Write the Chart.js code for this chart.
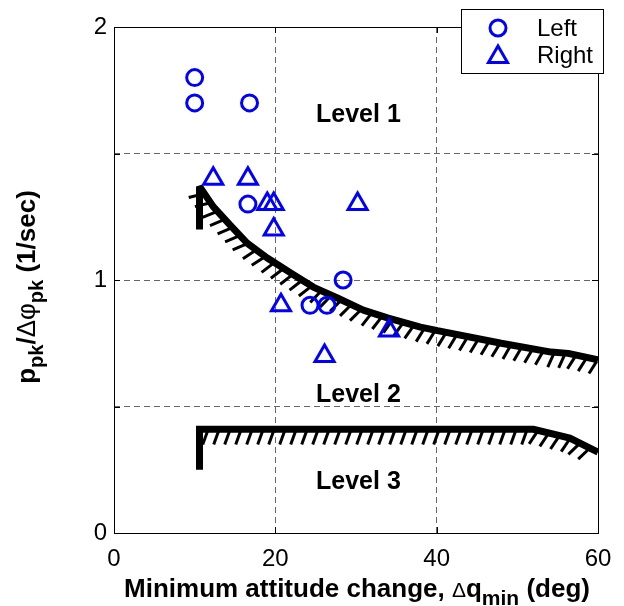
<!DOCTYPE html>
<html>
<head>
<meta charset="utf-8">
<script src="https://cdn.jsdelivr.net/npm/chart.js@4/dist/chart.umd.min.js"></script>
<style>
  body { margin: 0; background: #fff; }
  #wrap { width: 624px; height: 606px; }
</style>
</head>
<body>
<div id="wrap"><canvas id="chart" width="624" height="606"></canvas></div>
<script>
// Measured points
const leftX = [10, 10, 16.8, 16.6, 28.4, 24.3, 26.4];
const leftY = [1.8, 1.7, 1.7, 1.3, 1.0, 0.9, 0.9];
const rightX = [12.3, 16.6, 19.0, 19.8, 19.8, 30.2, 20.7, 26.1, 34.1];
const rightY = [1.4, 1.4, 1.3, 1.3, 1.2, 1.3, 0.9, 0.7, 0.8];

// Level boundaries (first segment is the vertical end bar, not hatched)
const level12X = [10.6, 10.6, 12.3, 14.4, 16.5, 19.0, 21.9, 24.7, 27.7, 30.9, 33.9, 38.0, 40.1, 48.0, 54.2, 56.3, 60];
const level12Y = [1.20, 1.37, 1.29, 1.217, 1.146, 1.087, 1.028, 0.972, 0.929, 0.881, 0.85, 0.814, 0.80, 0.75, 0.715, 0.71, 0.684];
const level23X = [10.6, 10.6, 52, 56.5, 60];
const level23Y = [0.25, 0.41, 0.41, 0.375, 0.32];

const xTicks = [0, 20, 40, 60];
const yTicks = [0, 0.5, 1, 1.5, 2];
const yTickLabels = ['0', '', '1', '', '2'];

const levelNames = ['Level 1', 'Level 2', 'Level 3'];
const levelAt = [[30.3, 1.65], [30.3, 0.545], [30.3, 0.2]];

const FONT = "'Liberation Sans', Arial, sans-serif";
const BLUE = '#0000ff';

function pts(xs, ys) {
    return xs.map((x, i) => ({ x: x, y: ys[i] }));
}

// hatch marks under the boundary lines
const hatchPlugin = {
    id: 'hatch',
    afterDatasetDraw(chart, args) {
        const ds = chart.data.datasets[args.index];
        if (!ds.hatch) return;
        const p = args.meta.data.map(e => ({ x: e.x, y: e.y }));
        const ctx = chart.ctx;
        const a = chart.chartArea;
        ctx.save();
        ctx.beginPath();
        ctx.rect(a.left, a.top, a.right - a.left, a.bottom - a.top);
        ctx.clip();
        ctx.strokeStyle = '#000';
        ctx.lineWidth = 3;
        const step = 11, off = 2, len = 14, ang = 20 * Math.PI / 180;
        let carry = 8;
        for (let i = 1; i < p.length - 1; i++) {
            const dx = p[i + 1].x - p[i].x, dy = p[i + 1].y - p[i].y;
            const L = Math.hypot(dx, dy);
            const tx = dx / L, ty = dy / L, nx = -ty, ny = tx;
            const hx = nx * Math.cos(ang) - tx * Math.sin(ang);
            const hy = ny * Math.cos(ang) - ty * Math.sin(ang);
            let s = carry;
            while (s < L) {
                const bx = p[i].x + tx * s + nx * off;
                const by = p[i].y + ty * s + ny * off;
                ctx.beginPath();
                ctx.moveTo(bx, by);
                ctx.lineTo(bx + hx * len, by + hy * len);
                ctx.stroke();
                s += step;
            }
            carry = s - L;
        }
        ctx.restore();
    }
};

// draw a run of text pieces with subscripts, centred at (cx, base)
function drawRuns(ctx, runs, cx, base, size) {
    const fontOf = r => (r.bold === false ? '' : 'bold ') + Math.round(size * (r.scale || 1)) + 'px ' + FONT;
    let total = 0;
    runs.forEach(r => { ctx.font = fontOf(r); total += ctx.measureText(r.t).width; });
    let x = cx - total / 2;
    ctx.textBaseline = 'alphabetic';
    ctx.textAlign = 'left';
    runs.forEach(r => {
        ctx.font = fontOf(r);
        ctx.fillText(r.t, x, base + (r.sub ? size * 0.3 : 0));
        x += ctx.measureText(r.t).width;
    });
}

const decorPlugin = {
    id: 'decor',
    afterDatasetsDraw(chart) {
        const ctx = chart.ctx;
        const xs = chart.scales.x, ys = chart.scales.y;
        ctx.save();
        ctx.fillStyle = '#000';
        ctx.font = 'bold 25px ' + FONT;
        ctx.textAlign = 'center';
        ctx.textBaseline = 'middle';
        levelNames.forEach((t, i) => {
            ctx.fillText(t, xs.getPixelForValue(levelAt[i][0]), ys.getPixelForValue(levelAt[i][1]));
        });
        ctx.restore();
    },
    afterDraw(chart) {
        const ctx = chart.ctx;
        const a = chart.chartArea;
        const xs = chart.scales.x, ys = chart.scales.y;
        ctx.save();
        // axes box and inward ticks
        ctx.strokeStyle = '#000';
        ctx.lineWidth = 1;
        ctx.strokeRect(a.left + 0.5, a.top + 0.5, a.right - a.left, a.bottom - a.top);
        ctx.beginPath();
        xTicks.forEach(v => {
            const x = Math.round(xs.getPixelForValue(v)) + 0.5;
            ctx.moveTo(x, a.bottom); ctx.lineTo(x, a.bottom - 6);
            ctx.moveTo(x, a.top); ctx.lineTo(x, a.top + 6);
        });
        yTicks.forEach(v => {
            const y = Math.round(ys.getPixelForValue(v)) + 0.5;
            ctx.moveTo(a.left, y); ctx.lineTo(a.left + 6, y);
            ctx.moveTo(a.right, y); ctx.lineTo(a.right - 6, y);
        });
        ctx.stroke();

        // axis titles
        ctx.fillStyle = '#000';
        drawRuns(ctx, [
            { t: 'Minimum attitude change, ' },
            { t: '\u0394', bold: false, scale: 0.8 },
            { t: 'q' },
            { t: 'min', sub: true, scale: 0.8 },
            { t: ' (deg)' }
        ], 357, 597, 26);
        ctx.save();
        ctx.translate(35, 287);
        ctx.rotate(-Math.PI / 2);
        drawRuns(ctx, [
            { t: 'p' },
            { t: 'pk', sub: true, scale: 0.75 },
            { t: '/' },
            { t: '\u0394\u03c6', bold: false },
            { t: 'pk', sub: true, scale: 0.75 },
            { t: ' (1/sec)' }
        ], 0, 0, 26);
        ctx.restore();

        // legend
        const lx = 461, ly = 9, lw = 142, lh = 64;
        ctx.fillStyle = '#fff';
        ctx.fillRect(lx, ly, lw, lh);
        ctx.strokeStyle = '#000';
        ctx.lineWidth = 1;
        ctx.strokeRect(lx + 0.5, ly + 0.5, lw, lh);
        const rows = [19, 46];
        chart.data.datasets.slice(0, 2).forEach((ds, i) => {
            const cy = ly + rows[i];
            ctx.strokeStyle = BLUE;
            ctx.lineWidth = 3;
            ctx.beginPath();
            if (ds.pointStyle === 'circle') {
                ctx.arc(498, cy, 8, 0, Math.PI * 2);
            } else {
                const r = 11, c = cy + 2;
                ctx.moveTo(498, c - r);
                ctx.lineTo(498 + r * Math.sin(2 * Math.PI / 3), c - r * Math.cos(2 * Math.PI / 3));
                ctx.lineTo(498 + r * Math.sin(4 * Math.PI / 3), c - r * Math.cos(4 * Math.PI / 3));
                ctx.closePath();
            }
            ctx.stroke();
            ctx.fillStyle = '#000';
            ctx.font = '24px ' + FONT;
            ctx.textAlign = 'left';
            ctx.textBaseline = 'middle';
            ctx.fillText(ds.label, 537, cy + 1);
        });
        ctx.restore();
    }
};

const gridColor = edge => ctx => {
    const v = ctx.tick ? ctx.tick.value : null;
    return edge.includes(v) ? 'rgba(0,0,0,0)' : '#666';
};

new Chart(document.getElementById('chart'), {
    type: 'scatter',
    data: {
        datasets: [
            {
                label: 'Left',
                data: pts(leftX, leftY),
                pointStyle: 'circle',
                pointRadius: 8,
                pointBorderWidth: 3,
                borderColor: BLUE,
                backgroundColor: 'rgba(0,0,0,0)'
            },
            {
                label: 'Right',
                data: pts(rightX, rightY),
                pointStyle: 'triangle',
                pointRadius: 11,
                pointBorderWidth: 3,
                borderColor: BLUE,
                backgroundColor: 'rgba(0,0,0,0)'
            },
            {
                label: 'Level 1/2',
                data: pts(level12X, level12Y),
                showLine: true,
                hatch: true,
                borderColor: '#000',
                borderWidth: 7,
                borderJoinStyle: 'bevel',
                pointRadius: 0,
                tension: 0
            },
            {
                label: 'Level 2/3',
                data: pts(level23X, level23Y),
                showLine: true,
                hatch: true,
                borderColor: '#000',
                borderWidth: 7,
                borderJoinStyle: 'miter',
                pointRadius: 0,
                tension: 0
            }
        ]
    },
    options: {
        responsive: false,
        animation: false,
        layout: { padding: { top: 27, right: 26, left: 0, bottom: 0 } },
        plugins: { legend: { display: false }, tooltip: { enabled: false } },
        scales: {
            x: {
                type: 'linear',
                min: 0,
                max: 60,
                afterBuildTicks: s => { s.ticks = xTicks.map(v => ({ value: v })); },
                afterFit: s => { s.height = 73; },
                ticks: {
                    color: '#000',
                    font: { family: FONT, size: 24 },
                    padding: 12,
                    maxRotation: 0,
                    callback: v => String(v)
                },
                grid: { color: gridColor([0, 60]), lineWidth: 1, drawTicks: false },
                border: { display: false, dash: [6, 4] }
            },
            y: {
                type: 'linear',
                min: 0,
                max: 2,
                afterBuildTicks: s => { s.ticks = yTicks.map(v => ({ value: v })); },
                afterFit: s => { s.width = 114; },
                ticks: {
                    color: '#000',
                    font: { family: FONT, size: 24 },
                    padding: 7,
                    callback: v => yTickLabels[yTicks.indexOf(v)]
                },
                grid: { color: gridColor([0, 2]), lineWidth: 1, drawTicks: false },
                border: { display: false, dash: [6, 4] }
            }
        }
    },
    plugins: [hatchPlugin, decorPlugin]
});
</script>
</body>
</html>
